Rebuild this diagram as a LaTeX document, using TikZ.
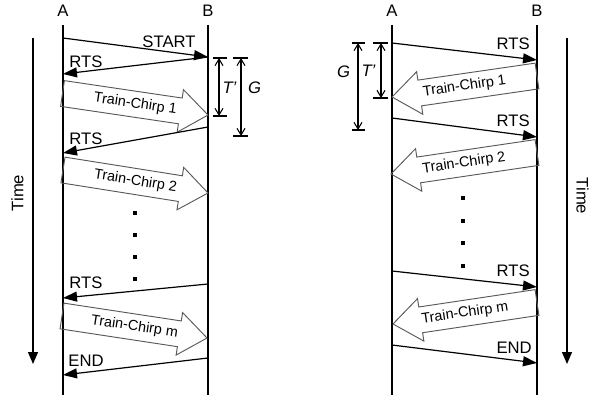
\documentclass[tikz,border=0pt]{standalone}
\usepackage{fontspec}
\setmainfont{Liberation Sans}
\usetikzlibrary{arrows.meta}
% #1 name, #2 tail point, #3 rotation, #4 direction (1 right, -1 left), #5 length (px), #6 text
\newcommand{\mychirp}[6]{%
  \begin{scope}[shift={#2}, rotate=#3]
    \draw[chirpline] (0,-13) -- ({#4*(#5-28)},-13) -- ({#4*(#5-28)},-21.5)
      -- ({#4*#5},0) -- ({#4*(#5-28)},21.5) -- ({#4*(#5-28)},13) -- (0,13) -- cycle;
    \node[chirptext, transform shape] (#1) at ({#4*#5/2},0) {#6};
  \end{scope}}
\begin{document}
\begin{tikzpicture}[x=0.75pt,y=-0.75pt,
  lbl/.style={font=\fontsize{12.5}{14}\selectfont, inner sep=0},
  ilbl/.style={font=\fontsize{12.5}{14}\selectfont\itshape, inner sep=0},
  life/.style={line width=1pt},
  msg/.style={line width=0.9pt, -{Triangle[length=10.5pt,width=7.5pt]}},
  chirpline/.style={draw=black!65, line width=0.7pt, line join=miter},
  chirptext/.style={font=\fontsize{10.8}{12}\selectfont, inner sep=0},
  dimline/.style={line width=0.8pt, {Straight Barb[length=5pt,width=6pt]}-{Straight Barb[length=5pt,width=6pt]}},
  tickline/.style={line width=0.8pt},
  dotmark/.style={fill, inner sep=0, minimum size=3pt},
  timeax/.style={line width=1pt, -{Triangle[length=9pt,width=7.5pt]}}
]
\useasboundingbox (0,0) rectangle (589,395);

% ---------------- left diagram ----------------
\node[lbl] (LA) at (63,11) {A};
\node[lbl] (LB) at (208,11) {B};
\coordinate (LAt) at (63,25); \coordinate (LAb) at (63,395);
\coordinate (LBt) at (208,25); \coordinate (LBb) at (208,395);
\draw[life] (LAt) -- (LAb);
\draw[life] (LBt) -- (LBb);

\coordinate (LT1) at (33,38); \coordinate (LT2) at (33,364);
\draw[timeax] (LT1) -- (LT2);
\node[lbl, rotate=90] (LTime) at (17.5,193) {Time};

\coordinate (ls1) at (63,38);  \coordinate (ls2) at (208,57);
\draw[msg] (ls1) -- (ls2);
\node[lbl] (lstart) at (169,42) {START};

\coordinate (lr1a) at (208,57); \coordinate (lr1b) at (63,74);
\draw[msg] (lr1a) -- (lr1b);
\node[lbl] (lrts1) at (86,62) {RTS};

\mychirp{lc1}{(62.5,93.5)}{-8.41}{1}{147.1}{Train-Chirp 1}

\coordinate (lr2a) at (208,127); \coordinate (lr2b) at (63,153);
\draw[msg] (lr2a) -- (lr2b);
\node[lbl] (lrts2) at (86,139) {RTS};

\mychirp{lc2}{(63,170)}{-9.01}{1}{146.8}{Train-Chirp 2}

\node[dotmark] (ld1) at (135,213) {};
\node[dotmark] (ld2) at (135,235) {};
\node[dotmark] (ld3) at (135,257) {};
\node[dotmark] (ld4) at (135,279) {};

\coordinate (lr3a) at (208,284); \coordinate (lr3b) at (63,298);
\draw[msg] (lr3a) -- (lr3b);
\node[lbl] (lrts3) at (86,283) {RTS};

\mychirp{lcm}{(62,316)}{-8.63}{1}{146.7}{Train-Chirp m}

\coordinate (le1) at (208,358); \coordinate (le2) at (63,375);
\draw[msg] (le1) -- (le2);
\node[lbl] (lend) at (86,361) {END};

% dimensions left
\coordinate (ltp1) at (213,58); \coordinate (ltp2) at (227,58);
\coordinate (ltp3) at (213,116); \coordinate (ltp4) at (227,116);
\draw[tickline] (ltp1) -- (ltp2);
\draw[tickline] (ltp3) -- (ltp4);
\coordinate (ltv1) at (219,58); \coordinate (ltv2) at (219,116);
\draw[dimline] (ltv1) -- (ltv2);
\node[ilbl] (ltlab) at (229.5,88) {T'};

\coordinate (lg1) at (233,58); \coordinate (lg2) at (248,58);
\coordinate (lg3) at (233,136); \coordinate (lg4) at (248,136);
\draw[tickline] (lg1) -- (lg2);
\draw[tickline] (lg3) -- (lg4);
\coordinate (lgv1) at (241,58); \coordinate (lgv2) at (241,136);
\draw[dimline] (lgv1) -- (lgv2);
\node[ilbl] (lglab) at (254.5,88) {G};

% ---------------- right diagram ----------------
\node[lbl] (RA) at (392,11) {A};
\node[lbl] (RB) at (537,11) {B};
\coordinate (RAt) at (392,25); \coordinate (RAb) at (392,395);
\coordinate (RBt) at (537,25); \coordinate (RBb) at (537,395);
\draw[life] (RAt) -- (RAb);
\draw[life] (RBt) -- (RBb);

\coordinate (RT1) at (567,38); \coordinate (RT2) at (567,364);
\draw[timeax] (RT1) -- (RT2);
\node[lbl, rotate=-90] (RTime) at (582.5,196) {Time};

\coordinate (rr1a) at (392,43); \coordinate (rr1b) at (537,60);
\draw[msg] (rr1a) -- (rr1b);
\node[lbl, anchor=east] (rrts1) at (530,44) {RTS};

\mychirp{rc1}{(537,76)}{8.24}{-1}{146.5}{Train-Chirp 1}

\coordinate (rr2a) at (392,118); \coordinate (rr2b) at (537,137);
\draw[msg] (rr2a) -- (rr2b);
\node[lbl, anchor=east] (rrts2) at (530,121) {RTS};

\mychirp{rc2}{(537,152.5)}{8.38}{-1}{147.6}{Train-Chirp 2}

\node[dotmark] (rd1) at (463,198) {};
\node[dotmark] (rd2) at (463,221) {};
\node[dotmark] (rd3) at (463,243) {};
\node[dotmark] (rd4) at (463,266) {};

\coordinate (rr3a) at (392,271); \coordinate (rr3b) at (537,287);
\draw[msg] (rr3a) -- (rr3b);
\node[lbl, anchor=east] (rrts3) at (530,271) {RTS};

\mychirp{rcm}{(537,302.5)}{8.49}{-1}{145.6}{Train-Chirp m}

\coordinate (re1) at (392,345); \coordinate (re2) at (537,363);
\draw[msg] (re1) -- (re2);
\node[lbl, anchor=east] (rend) at (532,348) {END};

% dimensions right
\coordinate (rtp1) at (373,43); \coordinate (rtp2) at (388,43);
\coordinate (rtp3) at (373,98); \coordinate (rtp4) at (388,98);
\draw[tickline] (rtp1) -- (rtp2);
\draw[tickline] (rtp3) -- (rtp4);
\coordinate (rtv1) at (381,43); \coordinate (rtv2) at (381,98);
\draw[dimline] (rtv1) -- (rtv2);
\node[ilbl] (rtlab) at (368.5,71) {T'};

\coordinate (rg1) at (352,43); \coordinate (rg2) at (365,43);
\coordinate (rg3) at (352,130); \coordinate (rg4) at (365,130);
\draw[tickline] (rg1) -- (rg2);
\draw[tickline] (rg3) -- (rg4);
\coordinate (rgv1) at (358,43); \coordinate (rgv2) at (358,130);
\draw[dimline] (rgv1) -- (rgv2);
\node[ilbl] (rglab) at (343.5,72) {G};
\end{tikzpicture}
\end{document}
